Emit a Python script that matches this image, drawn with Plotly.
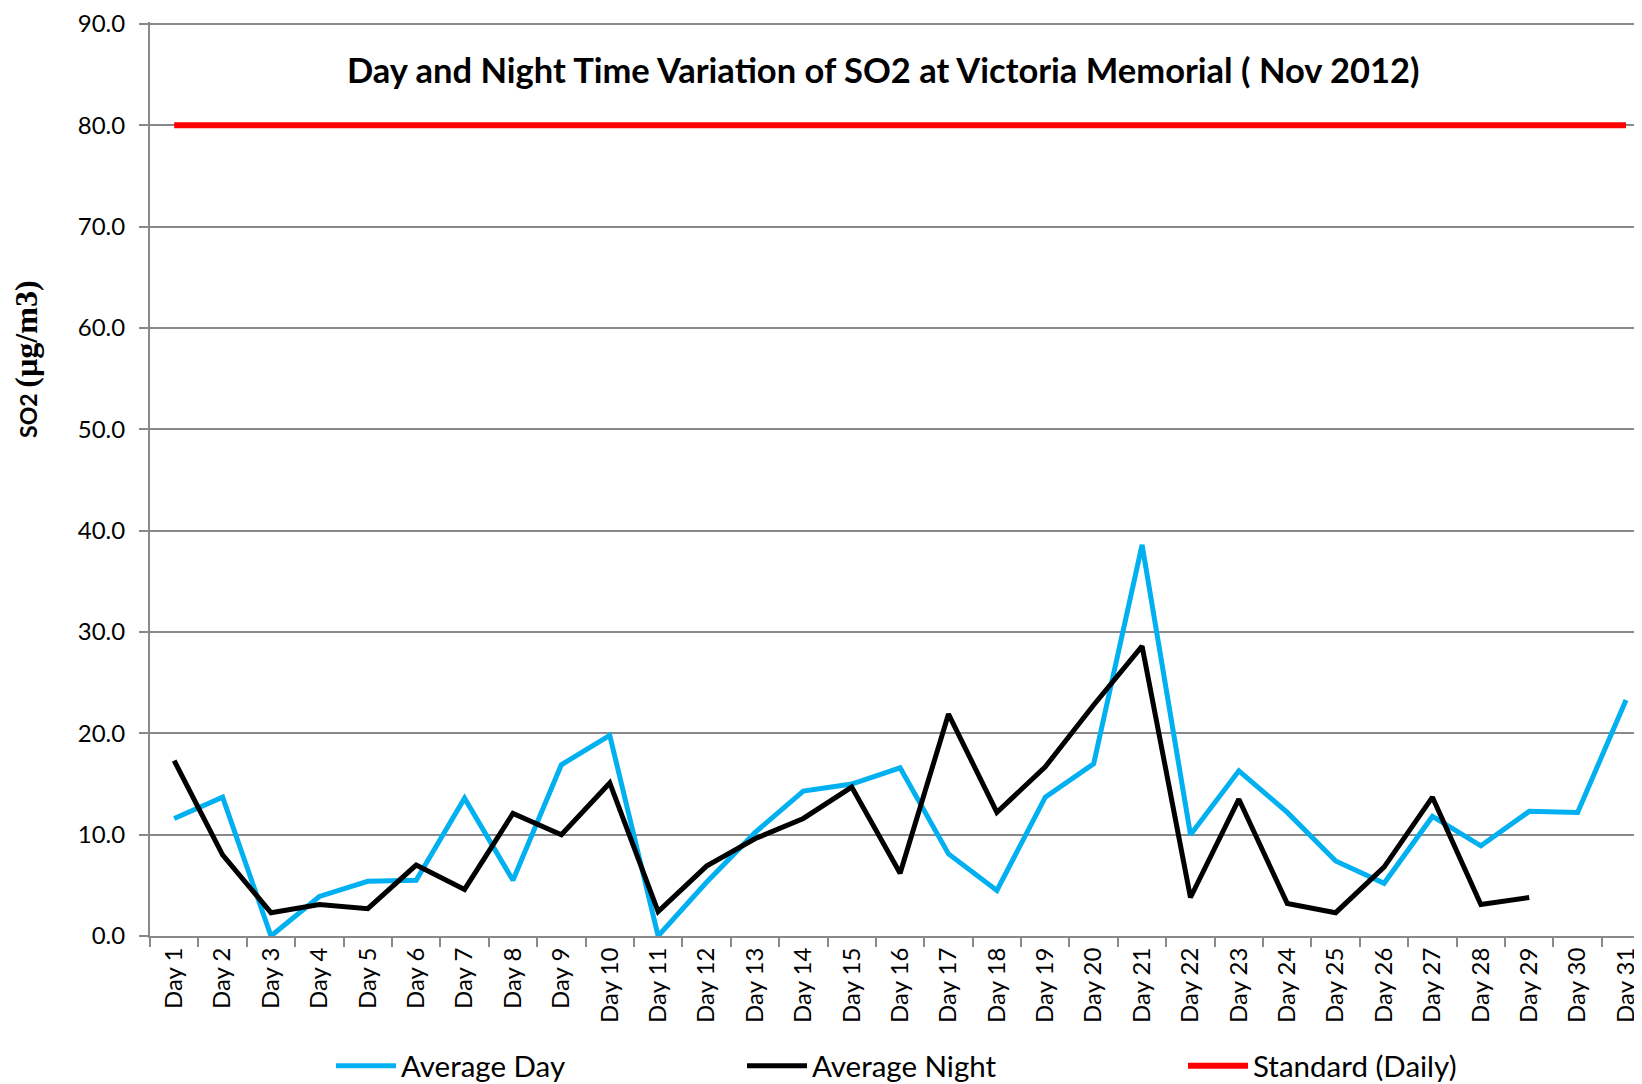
import plotly.graph_objects as go

days = [f"Day {i}" for i in range(1, 32)]

avg_day = [11.6, 13.7, 0.0, 3.9, 5.4, 5.5, 13.6, 5.5, 16.9, 19.8,
           0.0, 5.3, 10.2, 14.3, 15.0, 16.6, 8.1, 4.5, 13.7, 17.0,
           38.6, 10.0, 16.3, 12.2, 7.4, 5.2, 11.8, 8.9, 12.3, 12.2, 23.3]

avg_night = [17.3, 8.0, 2.3, 3.1, 2.7, 7.0, 4.6, 12.1, 10.0, 15.1,
             2.4, 6.9, 9.6, 11.6, 14.7, 6.2, 21.9, 12.2, 16.7, 22.8,
             28.6, 3.8, 13.5, 3.2, 2.3, 6.8, 13.7, 3.1, 3.8, None, None]

standard = [80.0] * 31

FONT = "Lato"
GRID = "#898989"

# page body has an 8px margin; figure occupies 8..1642 x 8..1084
OFF = 8
W, H = 1642 - OFF, 1084 - OFF
L, R, T = 150 - OFF, 0, 19 - OFF
B = H - (936 - OFF)
pw = W - L - R
ph = H - T - B

def px_x(px):
    return (px - OFF - L) / pw

def px_y(py):
    return (H - B - (py - OFF)) / ph

fig = go.Figure()
fig.add_trace(go.Scatter(x=days, y=avg_day, mode="lines", name="Average Day",
                         line=dict(color="#00B0F0", width=5), legend="legend"))
fig.add_trace(go.Scatter(x=days, y=avg_night, mode="lines", name="Average Night",
                         line=dict(color="#000000", width=5), legend="legend2"))
fig.add_trace(go.Scatter(x=days, y=standard, mode="lines", name="Standard (Daily)",
                         line=dict(color="#FF0000", width=6), legend="legend3"))

def leg(text_x_full):
    return dict(orientation="h", xref="container", yref="container",
                x=(text_x_full - OFF - 68) / W, y=1 - (1066 - OFF) / H,
                xanchor="left", yanchor="middle",
                font=dict(family=FONT, size=29.5, color="#000000"),
                bgcolor="rgba(0,0,0,0)", itemwidth=60)

fig.update_layout(
    width=W, height=H,
    margin=dict(l=L, r=R, t=T, b=B, pad=0),
    paper_bgcolor="white", plot_bgcolor="white",
    font=dict(family=FONT, size=24, color="#000000"),
    showlegend=True,
    legend=leg(399), legend2=leg(810), legend3=leg(1251),
    xaxis=dict(type="category", range=[-0.5, 30.33], tickson="boundaries",
               ticks="outside", ticklen=9, tickcolor=GRID, tickwidth=1.5,
               showline=True, linecolor=GRID, linewidth=2,
               showgrid=False, tickangle=-90,
               tickfont=dict(family=FONT, size=24, color="#000000")),
    yaxis=dict(range=[0, 90.2], tickvals=[0, 10, 20, 30, 40, 50, 60, 70, 80, 90],
               tickformat=".1f",
               ticks="outside", ticklen=9, tickcolor=GRID, tickwidth=1.5,
               ticklabelstandoff=9, ticklabeloverflow="allow",
               showline=True, linecolor=GRID, linewidth=2,
               showgrid=True, gridcolor=GRID, gridwidth=1.5,
               zeroline=False,
               tickfont=dict(family=FONT, size=24, color="#000000")),
    annotations=[
        dict(text="<b>Day and Night Time Variation of SO2 at Victoria Memorial ( Nov 2012)</b>",
             xref="paper", yref="paper", x=px_x(883), y=px_y(67),
             xanchor="center", yanchor="middle", showarrow=False,
             font=dict(family=FONT, size=34.5, color="#000000")),
        dict(text="<b>SO2 <span style='font-family:Liberation Serif;font-size:32px'>(µg/m3)</span></b>",
             xref="paper", yref="paper", x=px_x(26), y=px_y(358),
             xanchor="center", yanchor="middle", showarrow=False, textangle=-90,
             font=dict(family=FONT, size=23, color="#000000")),
    ],
)

fig.write_html("out.html")
